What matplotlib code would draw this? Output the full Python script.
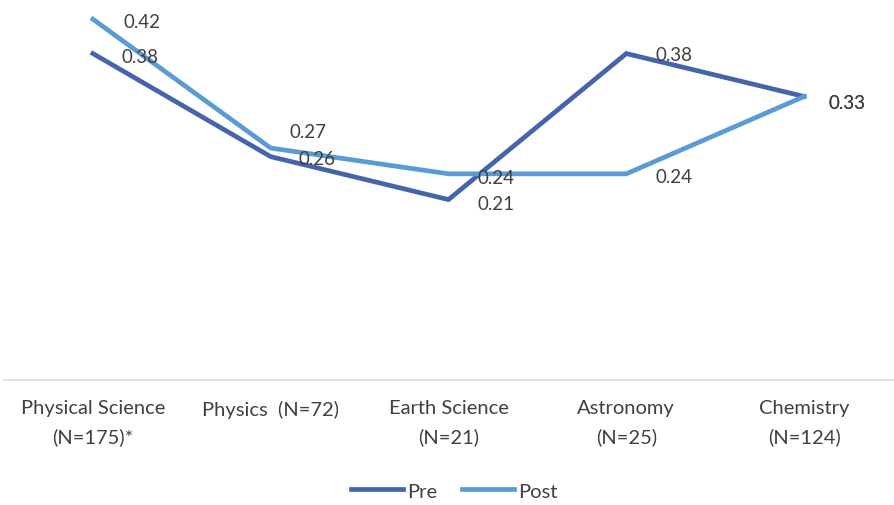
import matplotlib.pyplot as plt

plt.rcParams['font.family'] = ['Lato', 'DejaVu Sans']

categories = ['Physical Science\n(N=175)*', 'Physics  (N=72)', 'Earth Science\n(N=21)',
              'Astronomy\n(N=25)', 'Chemistry\n(N=124)']
pre = [0.38, 0.26, 0.21, 0.38, 0.33]
post = [0.42, 0.27, 0.24, 0.24, 0.33]

c_pre = '#4664AD'
c_post = '#5B9BD5'
txt = '#404040'

fig = plt.figure(figsize=(8.94, 5.06), dpi=100)
ax = fig.add_axes([4/894, 125/506, 889/894, 381/506])

x = range(len(categories))
ax.plot(x, pre, color=c_pre, lw=3.4, solid_joinstyle='miter', label='Pre', clip_on=False)
ax.plot(x, post, color=c_post, lw=3.4, solid_joinstyle='miter', label='Post', clip_on=False)

# label offsets in points (right of the marker mostly)
pre_off = [(34, -2), (33, -1), (34, -3), (34, -1), (31, -4)]
post_off = [(35, -2), (27, 12), (34, -3), (34, -2), (31, -4)]
for i, v in enumerate(pre):
    ax.annotate(f'{v:.2f}', (i, v), xytext=pre_off[i], textcoords='offset points',
                ha='center', va='center', fontsize=13.5, color=txt)
for i, v in enumerate(post):
    ax.annotate(f'{v:.2f}', (i, v), xytext=post_off[i], textcoords='offset points',
                ha='center', va='center', fontsize=13.5, color=txt)

ax.set_xlim(-0.5, 4.5)
ax.set_ylim(0, 0.4435)
ax.set_xticks(list(x))
ax.set_xticklabels(categories, fontsize=14.5, color=txt, linespacing=1.7)
ax.tick_params(axis='x', length=0, pad=14)
ax.set_yticks([])
for s in ['top', 'left', 'right']:
    ax.spines[s].set_visible(False)
ax.spines['bottom'].set_color('#D9D9D9')
ax.spines['bottom'].set_linewidth(1.1)

fig.legend(loc='lower center', bbox_to_anchor=(0.508, -0.025), ncol=2, frameon=False,
           fontsize=14.5, handlelength=2.6, handletextpad=0.2, columnspacing=1.2,
           labelcolor=txt)

plt.savefig('out.png', dpi=100)
